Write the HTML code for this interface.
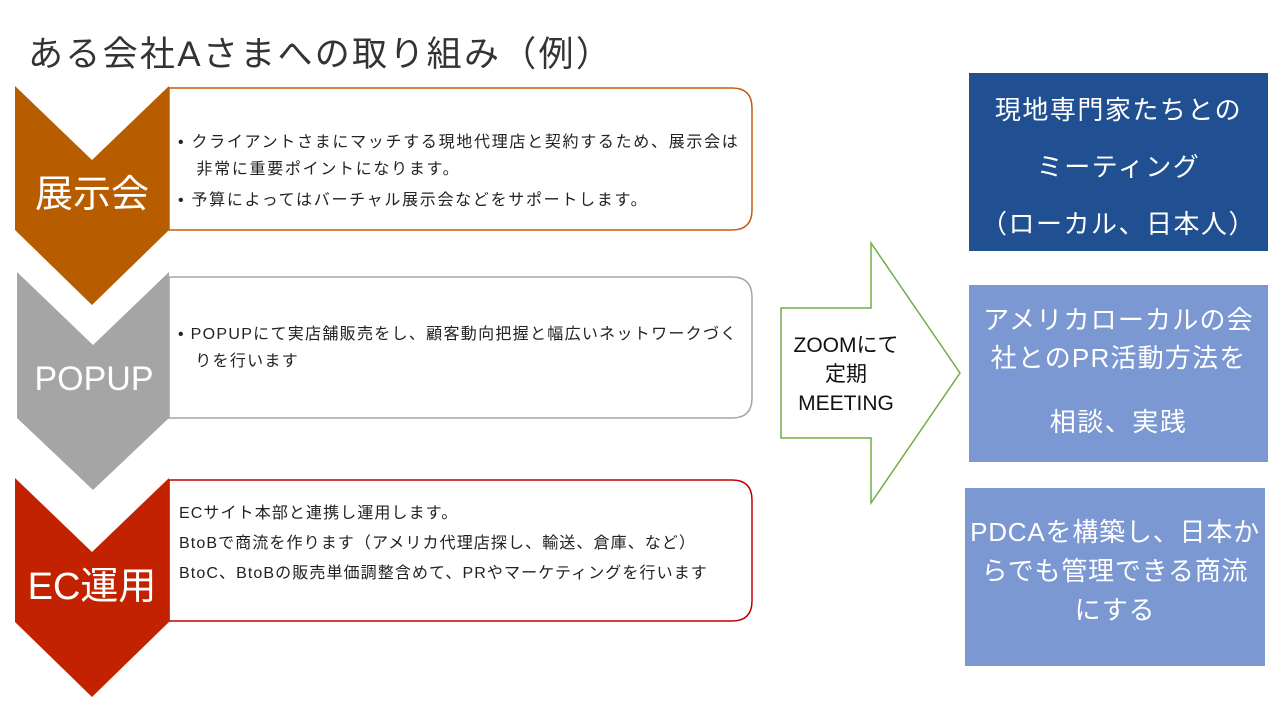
<!DOCTYPE html>
<html><head><meta charset="utf-8"><style>
body{margin:0;width:1280px;height:720px;background:#fff;position:relative;overflow:hidden;font-family:"Liberation Sans","Noto Sans CJK JP",sans-serif}
.a{position:absolute;white-space:nowrap}
.t{font-size:16px;color:#222;letter-spacing:1.7px}
.w{color:#fff;text-align:center}
</style></head><body>
<svg width="1280" height="720" style="position:absolute;left:0;top:0">
<path d="M169,88 H732 Q752,88 752,108 V210 Q752,230 732,230 H169 Z" fill="#fff" stroke="#C55A11" stroke-width="1.5"/>
<path d="M169,277 H732 Q752,277 752,297 V398 Q752,418 732,418 H169 Z" fill="#fff" stroke="#A5A5A5" stroke-width="1.5"/>
<path d="M169,480 H732 Q752,480 752,500 V601 Q752,621 732,621 H169 Z" fill="#fff" stroke="#C00000" stroke-width="1.5"/>
<polygon points="15,86 92,160 169,86 169,230 92,305 15,230" fill="#B85C00"/>
<polygon points="17,272 93,345 169,272 169,418 93,490 17,418" fill="#A5A5A5"/>
<polygon points="15,478 92,552 169,478 169,622 92,697 15,622" fill="#C22200"/>
<polygon points="781,308 871,308 871,243 960,373 871,503 871,438 781,438" fill="#fff" stroke="#70AD47" stroke-width="1.5"/>
<rect x="969" y="73" width="299" height="178" fill="#215092"/>
<rect x="969" y="285" width="299" height="177" fill="#7B98D2"/>
<rect x="965" y="488" width="300" height="178" fill="#7B98D2"/>
</svg>
<div class="a" style="left:28px;top:26px;font-size:35px;color:#333;letter-spacing:2.3px">ある会社Aさまへの取り組み（例）</div>
<div class="a w" style="left:15px;width:154px;top:163px;font-size:38px">展示会</div>
<div class="a w" style="left:17px;width:154px;top:360px;font-size:34px">POPUP</div>
<div class="a w" style="left:15px;width:154px;top:555px;font-size:38px">EC運用</div>
<div class="a t" style="left:178px;top:129px;line-height:27px">• クライアントさまにマッチする現地代理店と契約するため、展示会は<br>&nbsp;&nbsp;&nbsp;非常に重要ポイントになります。</div>
<div class="a t" style="left:178px;top:186px">• 予算によってはバーチャル展示会などをサポートします。</div>
<div class="a t" style="left:178px;top:321px;line-height:27px;letter-spacing:1.3px">• POPUPにて実店舗販売をし、顧客動向把握と幅広いネットワークづく<br>&nbsp;&nbsp;&nbsp;りを行います</div>
<div class="a t" style="left:179px;top:499px;line-height:30px;letter-spacing:1.1px">ECサイト本部と連携し運用します。<br>BtoBで商流を作ります（アメリカ代理店探し、輸送、倉庫、など）<br>BtoC、BtoBの販売単価調整含めて、PRやマーケティングを行います</div>
<div class="a" style="left:781px;width:130px;text-align:center;top:331px;font-size:21px;line-height:29px;color:#111">ZOOMにて<br>定期<br>MEETING</div>
<div class="a w" style="left:969px;width:299px;top:82px;font-size:26px;line-height:57px;letter-spacing:1.5px">現地専門家たちとの<br>ミーティング<br>（ローカル、日本人）</div>
<div class="a w" style="left:969px;width:299px;top:301px;font-size:26px;line-height:38px;letter-spacing:1.2px">アメリカローカルの会<br>社とのPR活動方法を</div>
<div class="a w" style="left:969px;width:299px;top:402px;font-size:26px;letter-spacing:1.5px">相談、実践</div>
<div class="a w" style="left:965px;width:300px;top:513px;font-size:26px;line-height:39px;letter-spacing:0.8px">PDCAを構築し、日本か<br>らでも管理できる商流<br>にする</div>
</body></html>
